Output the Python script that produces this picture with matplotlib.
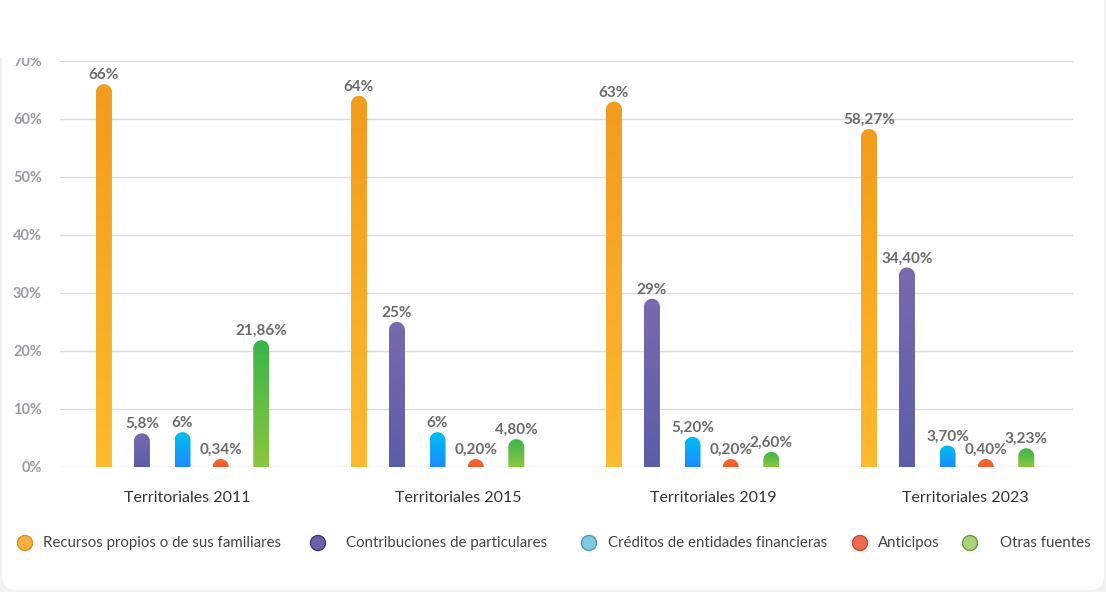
# Financiación de campañas: fuentes de recursos por elección territorial
import numpy as np
import matplotlib
matplotlib.use("Agg")
import matplotlib.pyplot as plt
from matplotlib.path import Path
from matplotlib.patches import PathPatch, FancyBboxPatch, Rectangle, Circle
from matplotlib.colors import LinearSegmentedColormap

plt.rcParams['font.family'] = ['Lato', 'DejaVu Sans']

# Data
elecciones = ["Territoriales 2011", "Territoriales 2015", "Territoriales 2019", "Territoriales 2023"]
fuentes = ["Recursos propios o de sus familiares", "Contribuciones de particulares",
           "Créditos de entidades financieras", "Anticipos", "Otras fuentes"]
recursos_propios = [66, 64, 63, 58.27]
contribuciones = [5.8, 25, 29, 34.40]
creditos = [6, 6, 5.20, 3.70]
anticipos = [0.34, 0.20, 0.20, 0.40]
otras = [21.86, 4.80, 2.60, 3.23]
etiquetas = [
    ["66%", "64%", "63%", "58,27%"],
    ["5,8%", "25%", "29%", "34,40%"],
    ["6%", "6%", "5,20%", "3,70%"],
    ["0,34%", "0,20%", "0,20%", "0,40%"],
    ["21,86%", "4,80%", "2,60%", "3,23%"],
]
series = [recursos_propios, contribuciones, creditos, anticipos, otras]

# gradient colours (bottom, top) and legend colours (fill, edge)
grad = [("#FDBA30", "#F29B1C"), ("#5A5EA8", "#7A69AE"), ("#1A8CFF", "#00BEF2"),
        ("#F15A29", "#F26C2B"), ("#8DC63F", "#39B54A")]
leg_cols = [("#F9AE3F", "#D98F2C"), ("#6D62A8", "#3C3875"), ("#7ECBE0", "#4A9BB3"),
            ("#EE6C4D", "#BF4A33"), ("#A9D37B", "#6C9944")]

W, H = 1106, 592
fig = plt.figure(figsize=(W / 100, H / 100), dpi=100, facecolor="#f1f1f1")

# card background + legend layer
bg = fig.add_axes([0, 0, 1, 1], zorder=0)
bg.set_xlim(0, W)
bg.set_ylim(H, 0)
bg.axis("off")
bg.add_patch(FancyBboxPatch((2, -20), W - 4, H - 2 + 20, boxstyle="round,pad=0,rounding_size=14",
                            fc="white", ec="none"))

ax_l, ax_b, ax_w, ax_h = 60, 125, 1013, 406
px_unit = 255.0
ax = fig.add_axes([ax_l / W, ax_b / H, ax_w / W, ax_h / H], zorder=1)
ax.set_facecolor("none")
x_min = -(182.5 - ax_l) / px_unit
x_max = x_min + ax_w / px_unit

offsets = [-0.308, -0.159, 0.0, 0.15, 0.309]
bar_px = 16
bw = bar_px / px_unit
ry = (bar_px / 2) / (ax_h / 70.0)
rx = bw / 2

for s, vals in enumerate(series):
    cmap = LinearSegmentedColormap.from_list("g%d" % s, grad[s])
    for i, v in enumerate(vals):
        xc = i + offsets[s]
        h = max(v, ry)
        t = np.linspace(0, np.pi, 40)
        xs = np.concatenate([[xc + rx], xc + rx * np.cos(t), [xc - rx]])
        ys = np.concatenate([[0], h - ry + ry * np.sin(t), [0]])
        verts = np.column_stack([xs, ys])
        verts = np.vstack([verts, verts[0]])
        codes = [Path.MOVETO] + [Path.LINETO] * (len(verts) - 2) + [Path.CLOSEPOLY]
        patch = PathPatch(Path(verts, codes), fc="none", ec="none")
        ax.add_patch(patch)
        im = ax.imshow(np.linspace(0, 1, 256).reshape(-1, 1), extent=[xc - rx, xc + rx, 0, h],
                       origin="lower", aspect="auto", cmap=cmap, zorder=3)
        im.set_clip_path(patch)
        ax.annotate(etiquetas[s][i], (xc, h), xytext=(0, 1.5), textcoords="offset points",
                    ha="center", va="bottom", fontsize=11, fontweight="bold", color="#6b6b6b", zorder=4)

ax.set_xlim(x_min, x_max)
ax.set_ylim(0, 70)

yt = np.arange(0, 71, 10)
ax.set_yticks(yt)
ax.set_yticklabels(["%d%%" % v for v in yt])
label_shift = [0.02, 0.08, 0.08, 0.07]
ax.set_xticks([i + label_shift[i] for i in range(4)])
ax.set_xticklabels(elecciones)
ax.tick_params(axis="x", length=0, pad=17, labelsize=11.5, labelcolor="#333333")
ax.tick_params(axis="y", length=0, pad=13, labelsize=10.5, labelcolor="#9a9aa2")
for lbl in ax.get_yticklabels():
    lbl.set_fontweight("bold")
ax.yaxis.grid(True, color="#dcdcdc", lw=1)
ax.set_axisbelow(True)
for sp in ax.spines.values():
    sp.set_visible(False)

# cut top of the 70% label like the original
fig.add_artist(Rectangle((0, (H - 58) / H), 0.2, 58 / H, transform=fig.transFigure,
                         fc="white", ec="none", zorder=10))

# legend
mark_x = [25, 318, 589, 860, 970]
text_x = [43, 346, 608, 878, 1000]
ly = 543
for k, name in enumerate(fuentes):
    bg.add_patch(Circle((mark_x[k], ly), 7.5, fc=leg_cols[k][0], ec=leg_cols[k][1], lw=1))
    bg.text(text_x[k], ly, name, ha="left", va="center", fontsize=10.8, color="#444444")

fig.savefig("out.png", dpi=100, facecolor=fig.get_facecolor())
